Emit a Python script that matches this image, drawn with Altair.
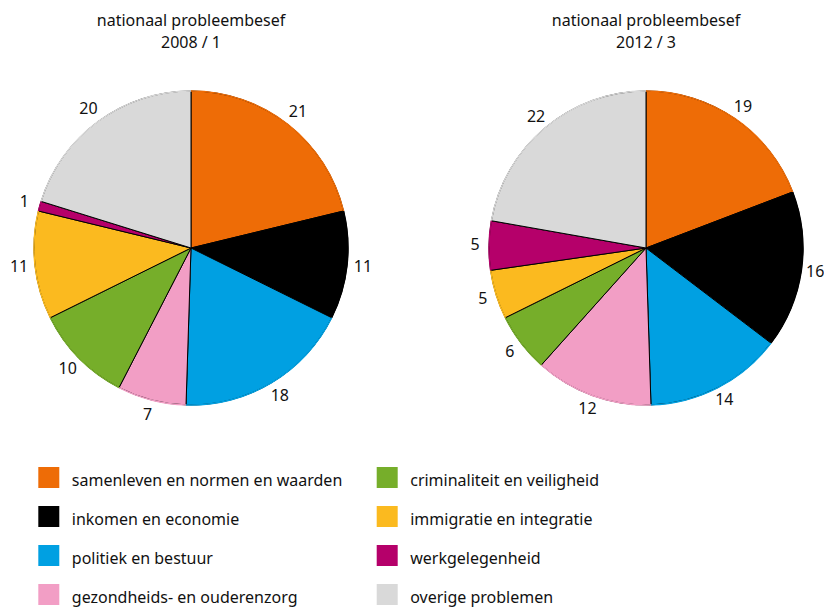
import altair as alt
import pandas as pd

categories = [
    "samenleven en normen en waarden",
    "inkomen en economie",
    "politiek en bestuur",
    "gezondheids- en ouderenzorg",
    "criminaliteit en veiligheid",
    "immigratie en integratie",
    "werkgelegenheid",
    "overige problemen",
]
colors = ["#EE6C06", "#000000", "#00A0E2", "#F29EC5", "#76AE2A", "#FBBA1F", "#B5006A", "#D9D9D9"]
periods = ["2008 / 1", "2012 / 3"]
values_2008 = [21, 11, 18, 7, 10, 11, 1, 20]
values_2012 = [19, 16, 14, 12, 6, 5, 5, 22]
title_text = "nationaal probleembesef"

FONT = "Noto Sans"
TXT = "#111111"
FS = 16

rows = []
for p, vals in zip(periods, [values_2008, values_2012]):
    for i, (c, v) in enumerate(zip(categories, vals)):
        rows.append({"period": p, "category": c, "value": v, "idx": i})
df = pd.DataFrame(rows)

leg = pd.DataFrame({
    "category": categories,
    "col": [i // 4 for i in range(len(categories))],
    "row": [i % 4 for i in range(len(categories))],
})

color_scale = alt.Scale(domain=categories, range=colors)
centers = {"2008 / 1": (183, 240), "2012 / 3": (638, 240)}
label_r = {"2008 / 1": 173, "2012 / 3": 171}
R = 157

layers = []
for p in periods:
    cx, cy = centers[p]
    base = alt.Chart(df).transform_filter(alt.datum.period == p).encode(
        theta=alt.Theta("value:Q", stack=True),
        order=alt.Order("idx:Q"),
        x=alt.value(cx),
        y=alt.value(cy),
    )
    pie = base.mark_arc(radius=R, stroke="black", strokeWidth=1).encode(
        color=alt.Color("category:N", scale=color_scale, legend=None)
    )
    ring = base.mark_arc(radius=R + 0.7, radius2=R - 0.7, strokeWidth=0).encode(
        color=alt.Color("category:N", scale=color_scale, legend=None)
    )
    labels = base.mark_text(radius=label_r[p], font=FONT, fontSize=FS, color=TXT,
                            align="center", baseline="middle").encode(text="value:Q")
    t1 = alt.Chart(pd.DataFrame({"t": [title_text]})).mark_text(
        font=FONT, fontSize=FS, color=TXT, align="center", baseline="alphabetic"
    ).encode(text="t:N", x=alt.value(cx), y=alt.value(18))
    t2 = alt.Chart(pd.DataFrame({"t": [p]})).mark_text(
        font=FONT, fontSize=FS, color=TXT, align="center", baseline="alphabetic"
    ).encode(text="t:N", x=alt.value(cx), y=alt.value(40))
    layers += [pie, ring, labels, t1, t2]

lx = alt.X("col:Q", scale=alt.Scale(domain=[0, 1], range=[40.8, 379.2]), axis=None)
ly = alt.Y("row:Q", scale=alt.Scale(domain=[0, 3], range=[469.5, 586.5]), axis=None)
leg_sq = alt.Chart(leg).mark_square(size=441, opacity=1).encode(
    x=lx, y=ly, color=alt.Color("category:N", scale=color_scale, legend=None)
)
leg_tx = alt.Chart(leg).mark_text(
    font=FONT, fontSize=FS, color=TXT, align="left", baseline="alphabetic", dx=23, dy=8.5
).encode(x=lx, y=ly, text="category:N")
layers += [leg_sq, leg_tx]

chart = alt.layer(*layers).properties(
    width=816, height=599, autosize="none", padding=0
).configure_view(stroke=None)

chart.save("out.html", embed_options={"renderer": "svg", "actions": False})
